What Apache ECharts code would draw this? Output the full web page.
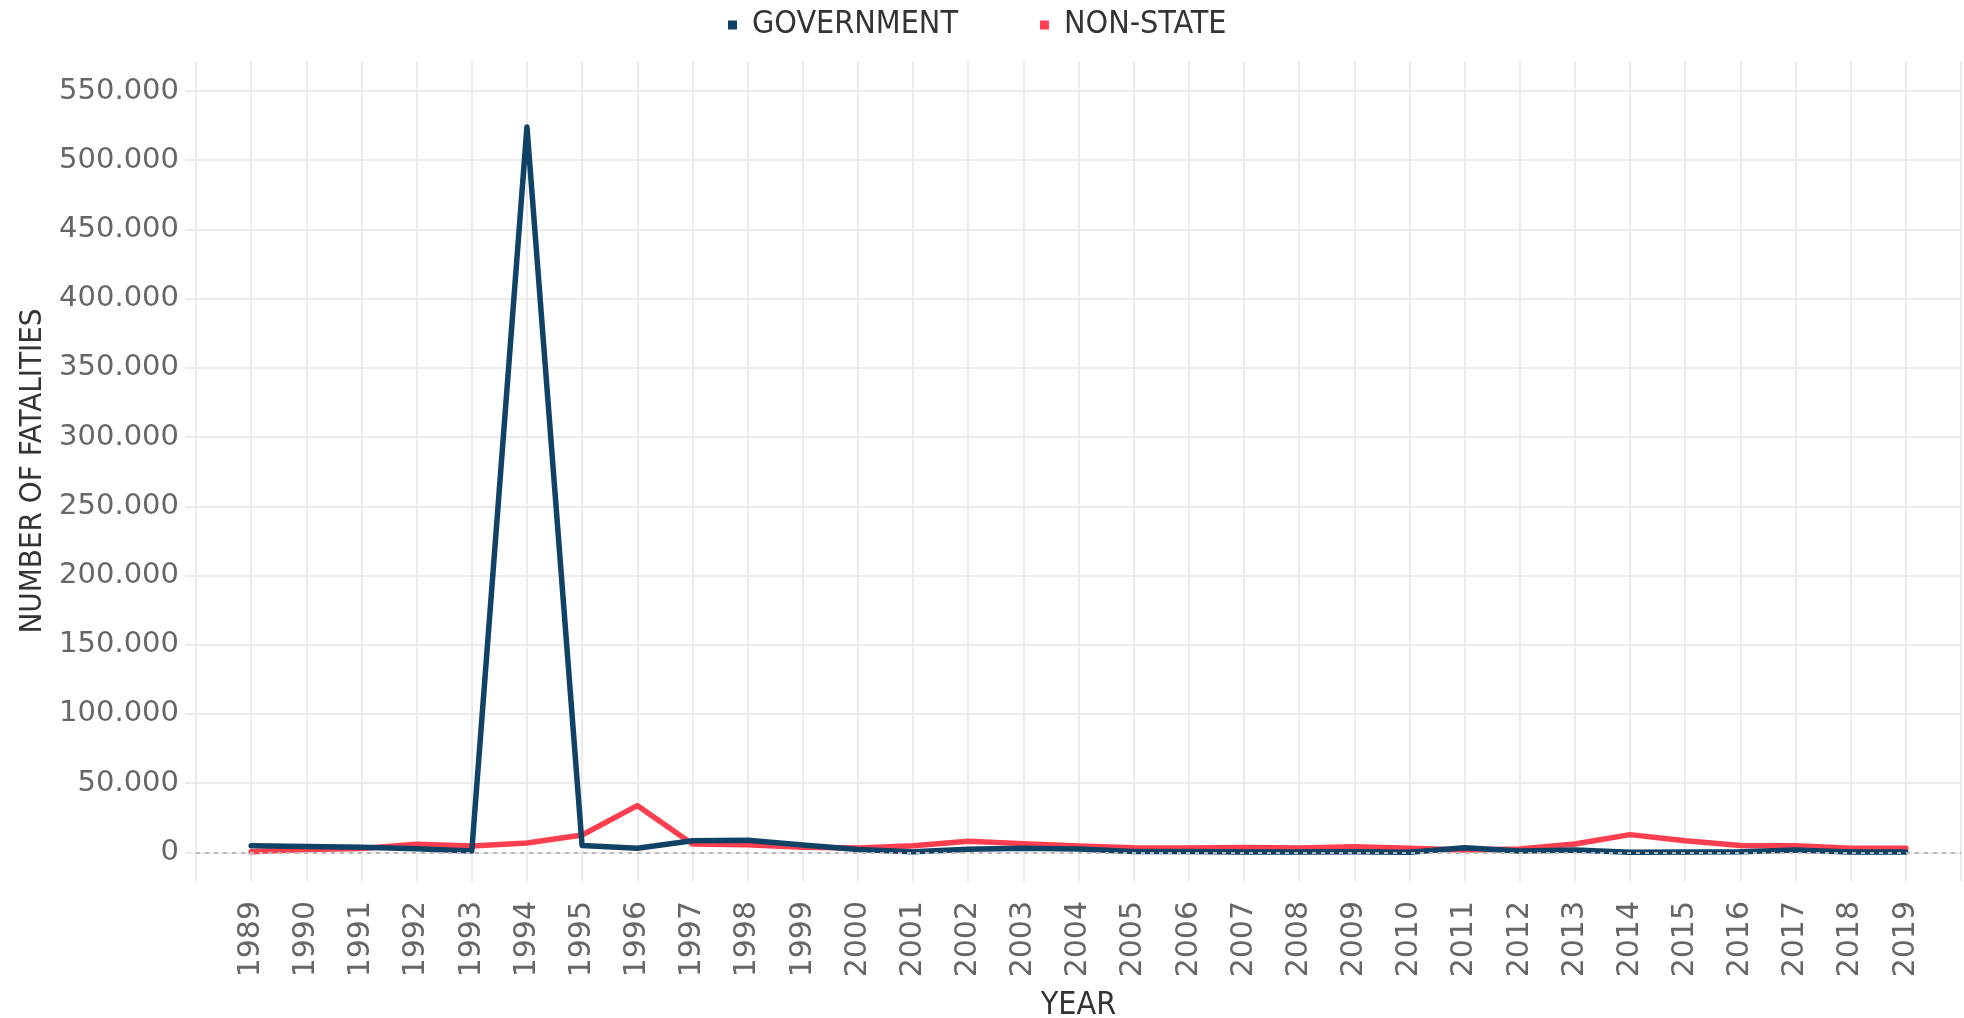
<!DOCTYPE html>
<html>
<head>
<meta charset="utf-8">
<title>Fatalities</title>
<script src="https://cdn.jsdelivr.net/npm/echarts@6/dist/echarts.min.js"></script>
<style>
  html, body { margin: 0; padding: 0; background: #fff; }
  #chart { width: 1964px; height: 1018px; }
</style>
</head>
<body>
<div id="chart"></div>
<script>
// years on the x axis
const years = [
  1989, 1990, 1991, 1992, 1993, 1994, 1995, 1996, 1997, 1998, 1999,
  2000, 2001, 2002, 2003, 2004, 2005, 2006, 2007, 2008, 2009,
  2010, 2011, 2012, 2013, 2014, 2015, 2016, 2017, 2018, 2019
];
// fatalities
const government = [
  4700, 4300, 3600, 2600, 1000, 524000, 5000, 2900, 8400, 8800, 5300,
  2000, 500, 2300, 3000, 2500, 700, 600, 300, 300, 500,
  0, 3400, 1000, 1700, 0, 300, 400, 1700, 200, 200
];
const nonState = [
  500, 2000, 2800, 5800, 4600, 6700, 12500, 33800, 6000, 5500, 3600,
  3200, 4800, 8000, 6300, 4600, 3400, 3200, 3500, 3200, 4000,
  3000, 1700, 2400, 6000, 12800, 8400, 5000, 4800, 3000, 3000
];
const yTicks = [0, 50000, 100000, 150000, 200000, 250000, 300000, 350000, 400000, 450000, 500000, 550000];

const gridColor = '#ebebeb';
const labelFont = 'DejaVu Sans';
const titleFont = '"Liberation Sans Narrow", "DejaVu Sans Condensed", sans-serif';

function fmt(v) {
  return String(v).replace(/\B(?=(\d{3})+(?!\d))/g, '.');
}

const chart = echarts.init(document.getElementById('chart'));
chart.setOption({
  animation: false,
  backgroundColor: '#fff',
  legend: {
    left: 723,
    top: 4,
    icon: 'rect',
    itemWidth: 9,
    itemHeight: 9,
    itemGap: 82,
    textStyle: {
      fontFamily: titleFont,
      fontSize: 32,
      color: '#333',
      padding: [0, 0, 0, 10]
    },
    data: ['GOVERNMENT', 'NON-STATE']
  },
  grid: {
    left: 196,
    right: 3,
    top: 61,
    bottom: 137,
    outerBoundsMode: 'none'
  },
  xAxis: {
    type: 'value',
    min: 1988,
    max: 2020,
    interval: 1,
    name: 'YEAR',
    nameLocation: 'middle',
    nameGap: 109,
    nameTextStyle: { fontFamily: titleFont, fontSize: 32, color: '#333' },
    axisLine: { show: true, lineStyle: { color: gridColor, width: 2 } },
    axisTick: { show: true, length: 10, lineStyle: { color: gridColor, width: 2 } },
    splitLine: { show: true, lineStyle: { color: gridColor, width: 2 } },
    axisLabel: {
      rotate: 90,
      margin: 20,
      fontFamily: labelFont,
      fontSize: 30,
      color: '#666',
      formatter: function (v) {
        return (v < 1989 || v > 2019) ? '' : String(v);
      }
    }
  },
  yAxis: {
    type: 'value',
    min: -20700,
    max: 571700,
    name: 'NUMBER OF FATALITIES',
    nameLocation: 'middle',
    nameGap: 148,
    nameTextStyle: { fontFamily: titleFont, fontSize: 31, color: '#333' },
    axisLine: { show: false },
    axisTick: { show: true, length: 11, customValues: yTicks, lineStyle: { color: gridColor, width: 2 } },
    splitLine: { show: true, lineStyle: { color: gridColor, width: 2 } },
    axisLabel: {
      customValues: yTicks,
      margin: 17,
      fontFamily: labelFont,
      fontSize: 29,
      color: '#666',
      formatter: fmt
    }
  },
  series: [
    {
      name: 'GOVERNMENT',
      type: 'line',
      z: 3,
      showSymbol: false,
      color: '#0f4265',
      lineStyle: { width: 5.5, cap: 'round', join: 'round' },
      data: years.map((y, i) => [y, government[i]])
    },
    {
      name: 'NON-STATE',
      type: 'line',
      z: 2,
      showSymbol: false,
      color: '#ff3f4f',
      lineStyle: { width: 5.5, cap: 'round', join: 'round' },
      data: years.map((y, i) => [y, nonState[i]]),
      markLine: {
        silent: true,
        symbol: 'none',
        label: { show: false },
        lineStyle: { color: '#b8b8b8', type: [4, 5], width: 2 },
        data: [{ yAxis: 0 }]
      }
    }
  ]
});
</script>
</body>
</html>
